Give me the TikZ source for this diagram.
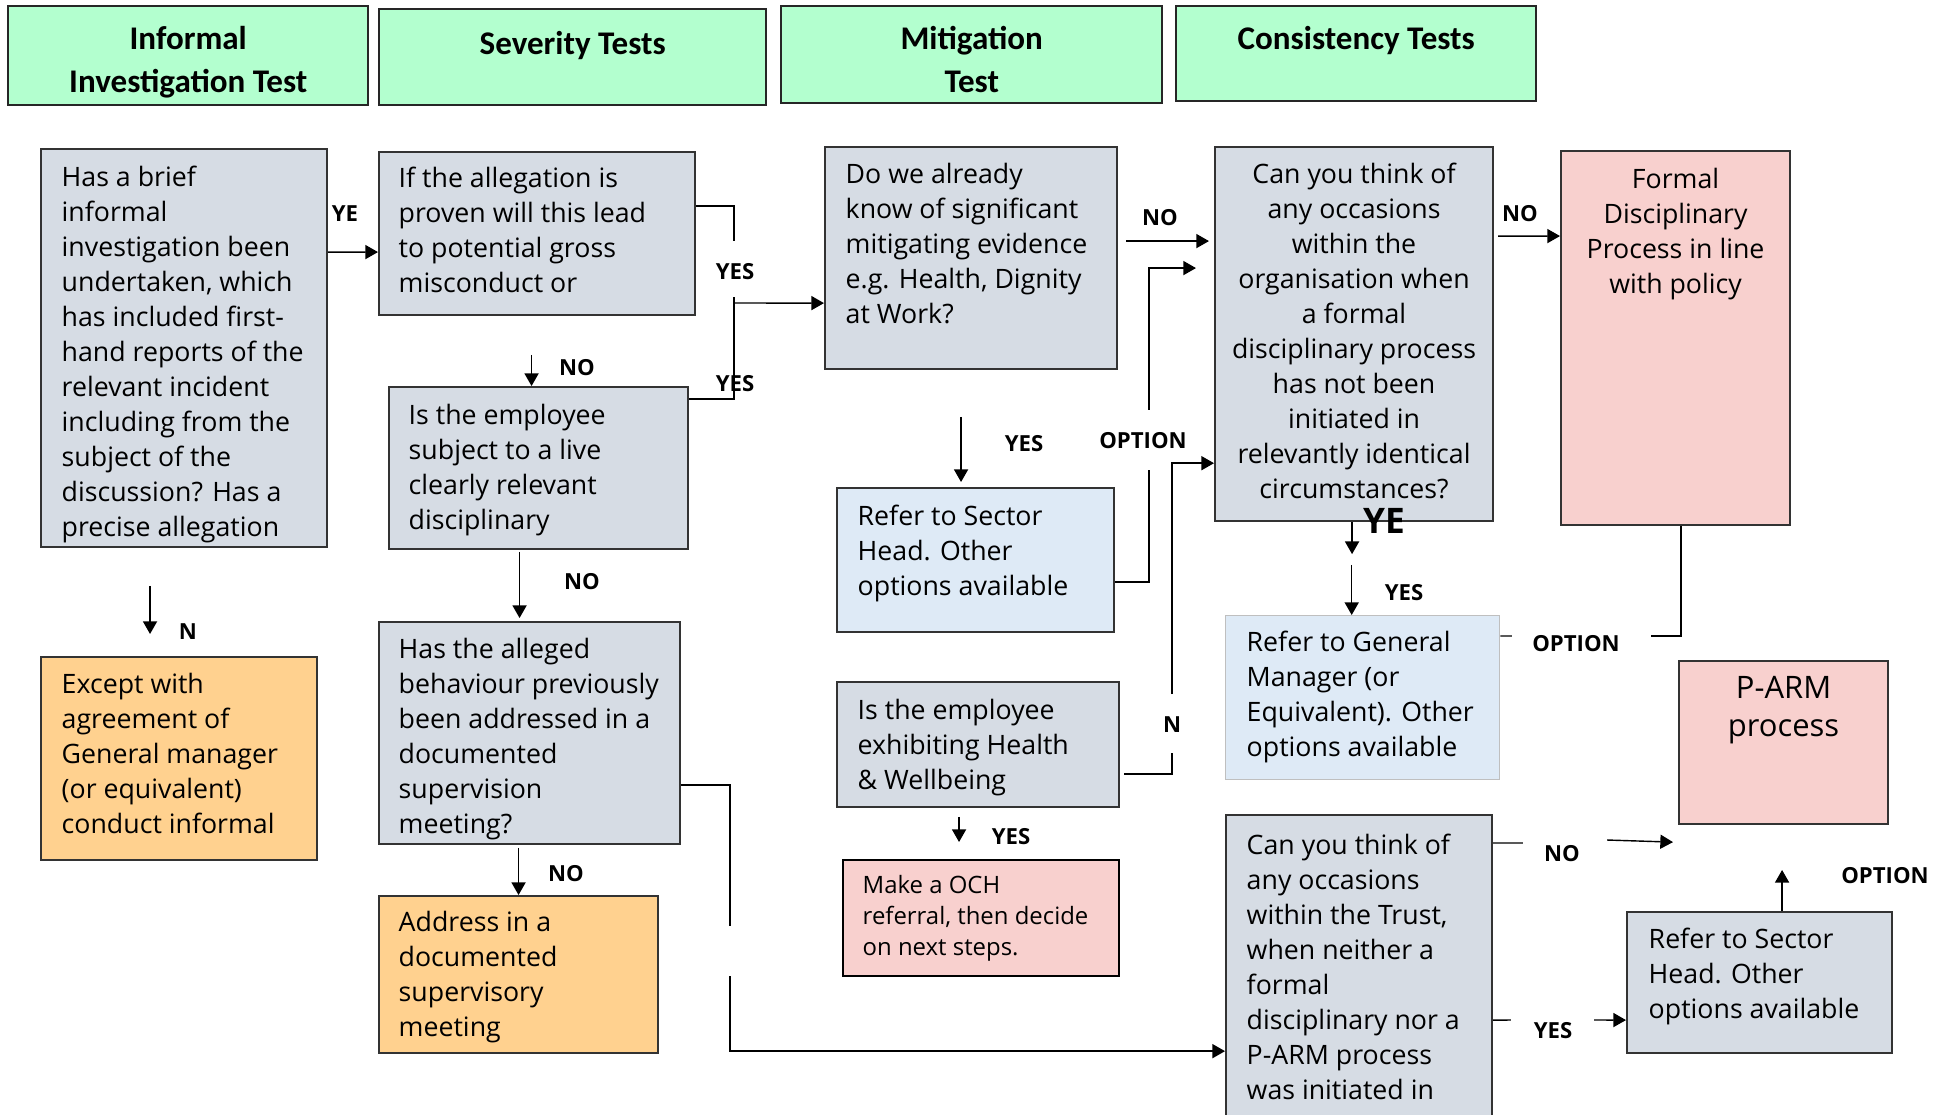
\documentclass[tikz,border=0pt]{standalone}
\usepackage{fontspec}
\setmainfont{Open Sans}
\newfontfamily\headfont{Carlito}
\usetikzlibrary{arrows.meta}
\usetikzlibrary{positioning}

\definecolor{hdrgreen}{HTML}{B3FFCF}
\definecolor{qgrey}{HTML}{D6DCE4}
\definecolor{refblue}{HTML}{DEEAF6}
\definecolor{endpink}{HTML}{F8D0CE}
\definecolor{actorange}{HTML}{FFD18F}

\tikzset{
  sz/.style 2 args={minimum width=#1*0.01cm, minimum height=#2*0.01cm},
  hdr/.style={draw=black!85, line width=0.7pt, fill=hdrgreen, anchor=north west, inner sep=0pt},
  qbox/.style={draw=black!80, line width=0.6pt, fill=qgrey, anchor=north west, inner sep=0pt},
  refbox/.style={qbox, fill=refblue},
  endbox/.style={qbox, fill=endpink},
  actbox/.style={qbox, fill=actorange},
  hdrtxt/.style={font=\headfont\bfseries\fontsize{9.4}{12.2}\selectfont, align=center, inner sep=0pt},
  body/.style={font=\fontsize{7.6}{9.96}\selectfont, align=left, inner sep=0pt},
  bodyc/.style={body, align=center},
  lbl/.style={font=\bfseries\fontsize{6.3}{7}\selectfont, inner sep=0pt},
  line/.style={line width=0.4pt},
  arr/.style={line, -{Triangle[length=3.6pt,width=4pt]}}
}

\begin{document}
\begin{tikzpicture}[x=0.01cm, y=-0.01cm]
\useasboundingbox (0,0) rectangle (1948,1114);
\clip (0,0) rectangle (1948,1114);

% column headers
\node[hdr, sz={360}{99}] (hinf) at (7,5) {};
\node[hdrtxt, below=0.21cm of hinf.north] {Informal\\Investigation Test};
\node[hdr, sz={387}{96}] (hsev) at (378,8) {};
\node[hdrtxt, below=0.23cm of hsev.north] {Severity Tests};
\node[hdr, sz={381}{97}] (hmit) at (780,5) {};
\node[hdrtxt, below=0.21cm of hmit.north] {Mitigation\\Test};
\node[hdr, sz={360}{95}] (hcon) at (1175,5) {};
\node[hdrtxt, below=0.21cm of hcon.north] {Consistency Tests};

% informal investigation
\node[qbox, sz={286}{398}] (inform) at (40,148) {};
\node[body, below right=0.17cm and 0.21cm of inform.north west] {Has a brief\\informal\\investigation been\\undertaken, which\\has included first-\\hand reports of the\\relevant incident\\including from the\\subject of the\\discussion? Has a\\precise allegation};
\node[actbox, sz={276}{203}] (excpt) at (40,656) {};
\node[body, below right=0.16cm and 0.21cm of excpt.north west] {Except with\\agreement of\\General manager\\(or equivalent)\\conduct informal};

% severity
\node[qbox, sz={316}{163}] (sever) at (378,151) {};
\node[body, below right=0.15cm and 0.20cm of sever.north west] {If the allegation is\\proven will this lead\\to potential gross\\misconduct or};
\node[qbox, sz={299}{162}] (live) at (388,386) {};
\node[body, below right=0.17cm and 0.20cm of live.north west] {Is the employee\\subject to a live\\clearly relevant\\disciplinary};
\node[qbox, sz={301}{222}] (behav) at (378,621) {};
\node[body, below right=0.16cm and 0.20cm of behav.north west] {Has the alleged\\behaviour previously\\been addressed in a\\documented\\supervision\\meeting?};
\node[actbox, sz={279}{157}] (address) at (378,895) {};
\node[body, below right=0.15cm and 0.20cm of address.north west] {Address in a\\documented\\supervisory\\meeting};

% mitigation
\node[qbox, sz={292}{222}] (mitig) at (824,146) {};
\node[body, below right=0.16cm and 0.21cm of mitig.north west] {Do we already\\know of significant\\mitigating evidence\\e.g. Health, Dignity\\at Work?};
\node[refbox, sz={277}{144}] (refsec) at (836,487) {};
\node[body, below right=0.17cm and 0.21cm of refsec.north west] {Refer to Sector\\Head. Other\\options available};
\node[qbox, sz={282}{125}] (health) at (836,681) {};
\node[body, below right=0.17cm and 0.21cm of health.north west] {Is the employee\\exhibiting Health\\\& Wellbeing};
\node[endbox, draw=black, sz={276}{116}] (och) at (842,859) {};
\node[body, font=\fontsize{6.8}{8.8}\selectfont, below right=0.16cm and 0.20cm of och.north west] {Make a OCH\\referral, then decide\\on next steps.};

% consistency
\node[qbox, sz={278}{374}] (consist) at (1214,146) {};
\node[bodyc, below=0.16cm of consist.north] {Can you think of\\any occasions\\within the\\organisation when\\a formal\\disciplinary process\\has not been\\initiated in\\relevantly identical\\circumstances?};
\node[refbox, draw=black!25, line width=0.4pt, sz={274}{164}] (refgm) at (1225,615) {};
\node[body, below right=0.15cm and 0.21cm of refgm.north west] {Refer to General\\Manager (or\\Equivalent). Other\\options available};
\node[qbox, sz={266}{330}] (trust) at (1225,814) {};
\node[body, below right=0.19cm and 0.21cm of trust.north west] {Can you think of\\any occasions\\within the Trust,\\when neither a\\formal\\disciplinary nor a\\P-ARM process\\was initiated in};

% outcomes
\node[endbox, sz={229}{374}] (formal) at (1560,150) {};
\node[bodyc, below=0.17cm of formal.north] {Formal\\Disciplinary\\Process in line\\with policy};
\node[endbox, sz={209}{163}] (parm) at (1678,660) {};
\node[bodyc, font=\fontsize{8.8}{10.8}\selectfont, below=0.16cm of parm.north] {P-ARM\\process};
\node[qbox, sz={265}{141}] (refsec2) at (1626,911) {};
\node[body, below right=0.16cm and 0.22cm of refsec2.north west] {Refer to Sector\\Head. Other\\options available};

% connectors
\coordinate (jyes) at (734,303);
\coordinate (jgap) at (730,951);
\coordinate (optF) at (1149,441);
\coordinate (nG) at (1172,725);
\coordinate (optJ) at (1576,636);
\coordinate (noL) at (1563,843);
\coordinate (yesL) at (1553,1020);

\draw[arr] ([yshift=-1.04cm]inform.north east) -- ([yshift=-1.01cm]sever.north west);
\draw[line] ([yshift=-0.55cm]sever.north east) -| ([yshift=0.62cm]jyes);
\draw[line] ([yshift=0.06cm]jyes) |- ([yshift=-0.13cm]live.north east);
\draw[arr] (jyes) -- ([yshift=-1.57cm]mitig.north west);
\draw[arr] ([xshift=-0.07cm,yshift=0.31cm]live.north) -- ([xshift=-0.07cm]live.north);
\draw[arr] ([xshift=-0.10cm,yshift=0.69cm]behav.north) -- ([xshift=-0.10cm,yshift=0.03cm]behav.north);
\draw[arr] ([yshift=0.47cm]address.north) -- (address.north);
\draw[line] ([yshift=-1.64cm]behav.north east) -| ([yshift=0.25cm]jgap);
\draw[arr] ([yshift=-0.25cm]jgap) |- ([yshift=-2.37cm]trust.north west);
\draw[arr] ([xshift=-0.29cm,yshift=0.70cm]excpt.north) -- ([xshift=-0.29cm,yshift=0.22cm]excpt.north);

\draw[arr] ([xshift=-0.145cm,yshift=0.70cm]refsec.north) -- ([xshift=-0.145cm,yshift=0.05cm]refsec.north);
\draw[arr] ([xshift=0.08cm,yshift=-0.95cm]mitig.north east) -- ([xshift=-0.05cm,yshift=-0.95cm]consist.north west);
\draw[line] ([yshift=-0.95cm]refsec.north east) -| ([yshift=-0.29cm]optF);
\draw[arr] ([yshift=0.31cm]optF) |- ([xshift=-0.18cm,yshift=-1.22cm]consist.north west);
\draw[line] ([xshift=0.04cm,yshift=-0.93cm]health.north east) -| ([yshift=-0.28cm]nG);
\draw[arr] ([yshift=0.31cm]nG) |- ([yshift=-3.17cm]consist.north west);
\draw[arr] ([xshift=-0.22cm,yshift=0.42cm]och.north) -- ([xshift=-0.22cm,yshift=0.17cm]och.north);

\draw[arr] ([xshift=-0.02cm]consist.south) -- ([xshift=-0.02cm,yshift=-0.32cm]consist.south);
\draw[arr] ([xshift=-0.11cm,yshift=0.50cm]refgm.north) -- ([xshift=-0.11cm]refgm.north);
\draw[arr] ([xshift=0.04cm,yshift=-0.90cm]consist.north east) -- ([yshift=-0.86cm]formal.north west);
\draw[line] ([xshift=0.055cm]formal.south) |- ([xshift=0.75cm]optJ);
\draw[line] ([xshift=-0.64cm]optJ) -- ([yshift=-0.21cm]refgm.north east);
\draw[line] ([yshift=-0.29cm]trust.north east) -- ([xshift=-0.40cm]noL);
\draw[arr] ([xshift=0.44cm,yshift=0.03cm]noL) -- ([xshift=-0.05cm,yshift=-0.17cm]parm.south west);
\draw[line] ([yshift=-2.06cm]trust.north east) -- ([xshift=-0.42cm]yesL);
\draw[arr] ([xshift=0.41cm]yesL) -- ([yshift=-1.09cm]refsec2.north west);
\draw[arr] ([xshift=0.225cm]refsec2.north) -- ([xshift=0.225cm,yshift=0.41cm]refsec2.north);

% labels
\node[lbl] (ye1) at (345,214) {YE};
\node[lbl] (yes1) at (735,272) {YES};
\node[lbl] (yes2) at (735,384) {YES};
\node[lbl] (no1) at (577,368) {NO};
\node[lbl] (no2) at (582,582) {NO};
\node[lbl] (no3) at (566,874) {NO};
\node[lbl] (n1) at (188,632) {N};
\node[lbl] (yes3) at (1024,444) {YES};
\node[lbl] (no4) at (1160,218) {NO};
\node[lbl] (opt1) at (1143,441) {OPTION};
\node[lbl] (n2) at (1172,725) {N};
\node[lbl] (yes4) at (1011,837) {YES};
\node[lbl, font=\bfseries\fontsize{10}{12}\selectfont] (ye2) at (1384,521) {YE};
\node[lbl] (yes5) at (1404,593) {YES};
\node[lbl] (no5) at (1520,214) {NO};
\node[lbl] (opt2) at (1576,644) {OPTION};
\node[lbl] (no6) at (1562,854) {NO};
\node[lbl] (yes6) at (1553,1031) {YES};
\node[lbl] (opt3) at (1885,876) {OPTION};
\end{tikzpicture}
\end{document}
